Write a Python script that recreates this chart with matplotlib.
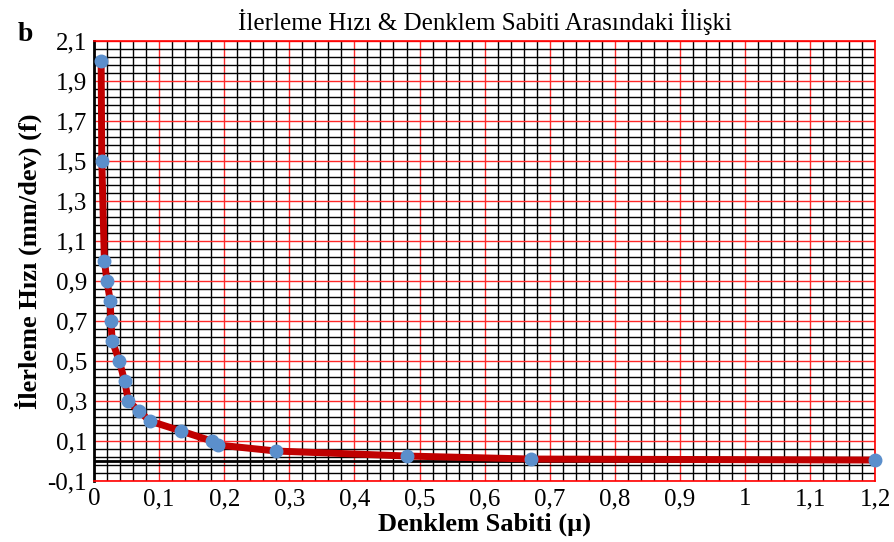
import numpy as np
import matplotlib
matplotlib.use("Agg")
import matplotlib.pyplot as plt
from matplotlib.ticker import MultipleLocator

# denklem sabiti (mu) vs ilerleme hizi (f)
mu = [0.011, 0.012, 0.016, 0.020, 0.025, 0.026, 0.028, 0.039, 0.047, 0.053,
      0.069, 0.086, 0.134, 0.181, 0.191, 0.280, 0.481, 0.671, 1.200]
f = [2.0, 1.5, 1.0, 0.9, 0.8, 0.7, 0.6, 0.5, 0.4, 0.3,
     0.25, 0.2, 0.15, 0.1, 0.08, 0.05, 0.025, 0.01, 0.005]

xticks = [0, 0.1, 0.2, 0.3, 0.4, 0.5, 0.6, 0.7, 0.8, 0.9, 1.0, 1.1, 1.2]
xlabels = ['0', '0,1', '0,2', '0,3', '0,4', '0,5', '0,6', '0,7', '0,8', '0,9', '1', '1,1', '1,2']
yticks = [-0.1, 0.1, 0.3, 0.5, 0.7, 0.9, 1.1, 1.3, 1.5, 1.7, 1.9, 2.1]
ylabels = ['-0,1', '0,1', '0,3', '0,5', '0,7', '0,9', '1,1', '1,3', '1,5', '1,7', '1,9', '2,1']

plt.rcParams['font.family'] = ['Liberation Serif', 'DejaVu Serif']

fig = plt.figure(figsize=(8.95, 5.42), dpi=100)
ax = fig.add_axes([0.105, 0.1125, 0.873, 0.8115])

ax.set_xlim(0, 1.2)
ax.set_ylim(-0.1, 2.1)

ax.set_xticks(xticks)
ax.set_xticklabels(xlabels, fontsize=18)
ax.set_yticks(yticks)
ax.set_yticklabels(ylabels, fontsize=18)
ax.xaxis.set_minor_locator(MultipleLocator(0.02))
ax.yaxis.set_minor_locator(MultipleLocator(0.04, offset=0.02))
ax.tick_params(which='both', length=0)
ax.tick_params(axis='x', pad=5)
ax.tick_params(axis='y', pad=5)

ax.grid(which='minor', color='black', lw=1.0, zorder=0)
ax.grid(which='major', color='#ff2a2a', lw=1.0, zorder=0.5)
ax.set_axisbelow(True)

for s in ['top', 'right', 'bottom']:
    ax.spines[s].set_color('red')
    ax.spines[s].set_linewidth(1.2)
ax.spines['left'].set_color('black')
ax.spines['left'].set_linewidth(2)
ax.axhline(0, color='black', lw=2, zorder=1)

ax.plot(mu, f, color='#c00000', lw=5, zorder=2, solid_capstyle='round')
ax.plot(mu, f, 'o', color='#5b8fcc', ms=9, zorder=3, clip_on=False)

ax.set_title('İlerleme Hızı & Denklem Sabiti Arasındaki İlişki', fontsize=18, pad=8)
ax.set_xlabel('Denklem Sabiti (µ)', fontsize=19, fontweight='bold', labelpad=2)
ax.set_ylabel('İlerleme Hızı (mm/dev) (f)', fontsize=19, fontweight='bold', labelpad=4)
fig.text(0.02, 0.925, 'b', fontsize=20, fontweight='bold')

fig.savefig('out.png', dpi=100)
